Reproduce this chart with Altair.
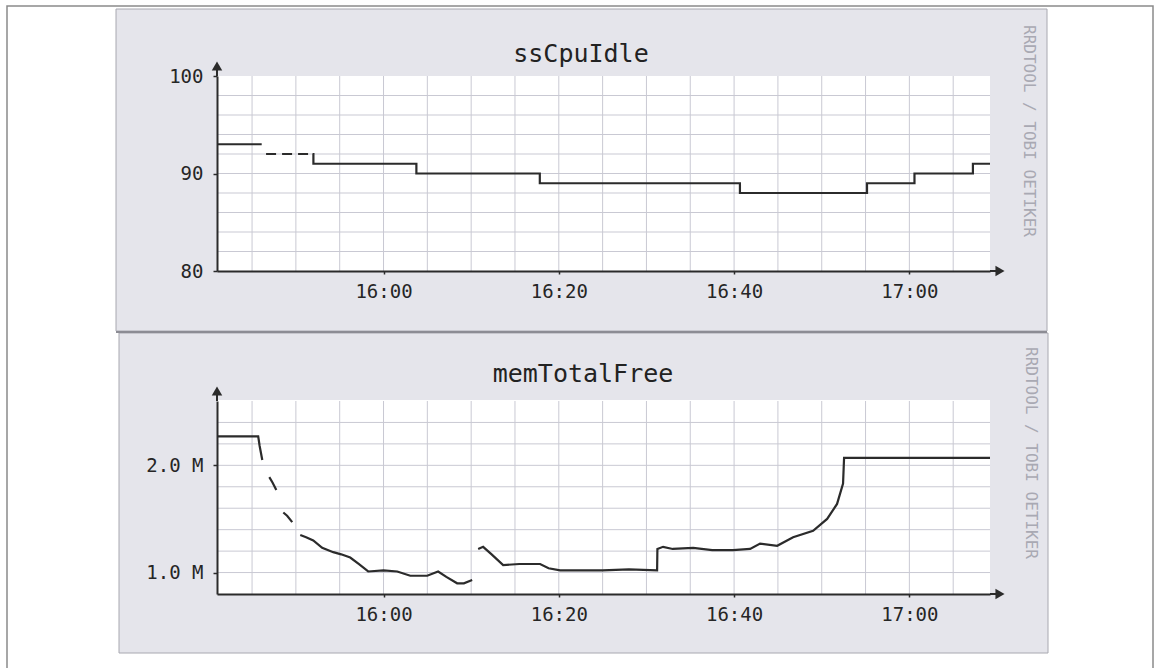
import altair as alt
import pandas as pd

DAY = "2024-01-01T"

# ---------------- data ----------------
cpu_a_t = ["15:41:00", "15:46:06"]
cpu_a_v = [93, 93]
cpu_b_t = ["15:46:36", "15:51:54"]          # dashed (sparse data) part
cpu_b_v = [92, 92]
cpu_c_t = ["15:51:54", "15:52:00", "16:03:45", "16:17:50", "16:40:40",
           "16:55:10", "17:00:35", "17:07:15", "17:09:12"]
cpu_c_v = [92, 91, 90, 89, 88, 89, 90, 91, 91]

mem_1_t = ["15:41:00", "15:45:42", "15:45:52", "15:46:10"]
mem_1_v = [2.27, 2.27, 2.18, 2.05]
mem_2_t = ["15:46:58", "15:47:20", "15:47:46"]
mem_2_v = [1.89, 1.84, 1.77]
mem_3_t = ["15:48:34", "15:49:00", "15:49:35"]
mem_3_v = [1.56, 1.53, 1.47]
mem_4_t = ["15:50:30", "15:51:10", "15:51:59", "15:53:00", "15:54:16", "15:55:10",
           "15:56:12", "15:57:10", "15:58:15", "16:00:00", "16:01:34", "16:03:03",
           "16:04:59", "16:06:14", "16:07:10", "16:08:24", "16:09:10", "16:10:07"]
mem_4_v = [1.35, 1.33, 1.30, 1.23, 1.19, 1.17, 1.14, 1.08, 1.01, 1.02, 1.01, 0.97,
           0.97, 1.01, 0.96, 0.90, 0.90, 0.93]
mem_5_t = ["16:10:48", "16:11:22", "16:12:20", "16:13:39", "16:15:30", "16:17:52",
           "16:18:50", "16:20:09", "16:25:00", "16:28:00", "16:31:13", "16:31:15",
           "16:31:54", "16:33:00", "16:35:20", "16:37:30", "16:39:53", "16:41:50",
           "16:42:58", "16:44:55", "16:46:44", "16:49:01", "16:50:37", "16:51:45",
           "16:52:26", "16:52:33", "17:09:12"]
mem_5_v = [1.22, 1.24, 1.17, 1.07, 1.08, 1.08, 1.04, 1.02, 1.02, 1.03, 1.02, 1.22,
           1.24, 1.22, 1.23, 1.21, 1.21, 1.22, 1.27, 1.25, 1.33, 1.39, 1.50, 1.64,
           1.83, 2.07, 2.07]

time_grid = ["15:45:00", "15:50:00", "15:55:00", "16:00:00", "16:05:00", "16:10:00",
             "16:15:00", "16:20:00", "16:25:00", "16:30:00", "16:35:00", "16:40:00",
             "16:45:00", "16:50:00", "16:55:00", "17:00:00", "17:05:00"]
time_labels = ["16:00:00", "16:20:00", "16:40:00", "17:00:00"]
cpu_grid = [82, 84, 86, 88, 90, 92, 94, 96, 98]
cpu_labels = [80, 90, 100]
mem_grid = [1.0, 1.2, 1.4, 1.6, 1.8, 2.0, 2.2, 2.4]
mem_labels = [1.0, 2.0]
x_start, x_end = "15:41:00", "17:09:12"
cpu_dom = [80, 100]
mem_dom = [0.8, 2.6]


def dt(s):
    h, m, sec = (int(p) for p in s.split(":"))
    return alt.DateTime(year=2024, month=1, date=1, hours=h, minutes=m, seconds=sec)


def frame(segs):
    rows = []
    for name, ts, vs in segs:
        for t, v in zip(ts, vs):
            rows.append({"t": DAY + t, "v": v, "seg": name})
    return pd.DataFrame(rows)


cpu_solid = frame([("a", cpu_a_t, cpu_a_v), ("c", cpu_c_t, cpu_c_v)])
cpu_dash = frame([("b", cpu_b_t, cpu_b_v)])
mem_df = frame([("1", mem_1_t, mem_1_v), ("2", mem_2_t, mem_2_v), ("3", mem_3_t, mem_3_v),
                ("4", mem_4_t, mem_4_v), ("5", mem_5_t, mem_5_v)])
tgrid_df = pd.DataFrame({"t": [DAY + t for t in time_grid]})
cgrid_df = pd.DataFrame({"v": cpu_grid})
mgrid_df = pd.DataFrame({"v": mem_grid})

# ---------------- layout ----------------
W, H = 1156, 668
PX0, PX1 = 217, 990
T_Y0, T_Y1 = 271, 76
B_Y0, B_Y1 = 594, 401
FONT = "DejaVu Sans Mono"
INK = "#2b2b2b"
GRID = "#c9c9d3"
PANEL = "#e5e5eb"

xscale = alt.Scale(domain=[dt(x_start), dt(x_end)], range=[PX0, PX1])
ys_top = alt.Scale(domain=cpu_dom, range=[T_Y0, T_Y1], nice=False, zero=False)
ys_bot = alt.Scale(domain=mem_dom, range=[B_Y0, B_Y1], nice=False, zero=False)


def xaxis(ypos):
    return alt.Axis(orient="bottom", offset=ypos - H, values=[dt(t) for t in time_labels],
                    format="%H:%M", grid=False, domainColor=INK, domainWidth=2,
                    tickColor=INK, tickSize=3, tickWidth=1.5, labelFont=FONT, labelFontSize=19,
                    labelColor="#262626", labelPadding=8, title=None, labelFlush=False,
                    zindex=2)


def yaxis(vals, expr=None):
    kw = dict(orient="left", offset=-PX0, values=vals, grid=False, domainColor=INK,
              domainWidth=2, tickColor=INK, tickSize=4, tickWidth=1.5, labelFont=FONT,
              labelFontSize=19, labelColor="#262626", labelPadding=10, title=None, zindex=2)
    if expr:
        kw["labelExpr"] = expr
    return alt.Axis(**kw)


xa_top, xa_bot = xaxis(T_Y0), xaxis(B_Y0)
ya_top = yaxis(cpu_labels)
ya_bot = yaxis(mem_labels, "format(datum.value, '.1f') + ' M'")

one = alt.Chart(pd.DataFrame({"d": [0]}))


def box(x0, y0, x1, y1, **kw):
    return one.mark_rect(**kw).encode(x=alt.value(x0), x2=alt.value(x1),
                                      y=alt.value(y0), y2=alt.value(y1))


def hline(x0, x1, y, **kw):
    return one.mark_rule(**kw).encode(x=alt.value(x0), x2=alt.value(x1), y=alt.value(y))


def vline(x, y0, y1, **kw):
    return one.mark_rule(**kw).encode(x=alt.value(x), y=alt.value(y0), y2=alt.value(y1))


def label(txt, x, y, **kw):
    return one.mark_text(text=txt, font=FONT, **kw).encode(x=alt.value(x), y=alt.value(y))


decor = alt.layer(
    box(7, 6, 1153, 720, fill="white", stroke="#8a8a8a", strokeWidth=1.5),
    box(116, 9, 1047, 331, fill=PANEL, stroke="#a8a8b0", strokeWidth=1),
    box(119, 333, 1048, 653, fill=PANEL, stroke="#a8a8b0", strokeWidth=1),
    hline(116, 1047, 332, color="#8c8c94", strokeWidth=2),
    box(PX0, T_Y1, PX1, T_Y0, fill="white"),
    box(PX0, B_Y1 - 1, PX1, B_Y0, fill="white"),
    label("ssCpuIdle", 581, 54, fontSize=25, color="#222", align="center"),
    label("memTotalFree", 583, 374, fontSize=25, color="#222", align="center"),
    label("RRDTOOL / TOBI OETIKER", 1029, 25, fontSize=16, color="#a9a9b3",
          angle=90, align="left", baseline="middle"),
    label("RRDTOOL / TOBI OETIKER", 1031, 347, fontSize=16, color="#a9a9b3",
          angle=90, align="left", baseline="middle"),
)

arrows = alt.layer(
    vline(PX0, 66, T_Y1, color=INK, strokeWidth=2),
    vline(PX0, 391, B_Y1, color=INK, strokeWidth=2),
    hline(PX1, 998, T_Y0, color=INK, strokeWidth=2),
    hline(PX1, 998, B_Y0, color=INK, strokeWidth=2),
    one.mark_point(shape="triangle-up", filled=True, size=110, color=INK, opacity=1)
       .encode(x=alt.value(PX0), y=alt.value(66)),
    one.mark_point(shape="triangle-up", filled=True, size=110, color=INK, opacity=1)
       .encode(x=alt.value(PX0), y=alt.value(391)),
    one.mark_point(shape="triangle-right", filled=True, size=110, color=INK, opacity=1)
       .encode(x=alt.value(1000), y=alt.value(T_Y0)),
    one.mark_point(shape="triangle-right", filled=True, size=110, color=INK, opacity=1)
       .encode(x=alt.value(1000), y=alt.value(B_Y0)),
)

top = alt.layer(
    alt.Chart(tgrid_df).mark_rule(color=GRID, strokeWidth=1).encode(
        x=alt.X("t:T", scale=xscale, axis=xa_top), y=alt.value(T_Y1), y2=alt.value(T_Y0)),
    alt.Chart(cgrid_df).mark_rule(color=GRID, strokeWidth=1).encode(
        y=alt.Y("v:Q", scale=ys_top, axis=ya_top), x=alt.value(PX0), x2=alt.value(PX1)),
    alt.Chart(cpu_solid).mark_line(interpolate="step-after", color=INK, strokeWidth=2.2).encode(
        x=alt.X("t:T", scale=xscale, axis=xa_top),
        y=alt.Y("v:Q", scale=ys_top, axis=ya_top), detail="seg:N"),
    alt.Chart(cpu_dash).mark_line(interpolate="step-after", color=INK, strokeWidth=2.2,
                                  strokeDash=[10, 6]).encode(
        x=alt.X("t:T", scale=xscale, axis=xa_top),
        y=alt.Y("v:Q", scale=ys_top, axis=ya_top), detail="seg:N"),
)

bottom = alt.layer(
    alt.Chart(tgrid_df).mark_rule(color=GRID, strokeWidth=1).encode(
        x=alt.X("t:T", scale=xscale, axis=xa_bot), y=alt.value(B_Y1), y2=alt.value(B_Y0)),
    alt.Chart(mgrid_df).mark_rule(color=GRID, strokeWidth=1).encode(
        y=alt.Y("v:Q", scale=ys_bot, axis=ya_bot), x=alt.value(PX0), x2=alt.value(PX1)),
    alt.Chart(mem_df).mark_line(color=INK, strokeWidth=2.2).encode(
        x=alt.X("t:T", scale=xscale, axis=xa_bot),
        y=alt.Y("v:Q", scale=ys_bot, axis=ya_bot), detail="seg:N"),
)

chart = alt.layer(decor, top, bottom, arrows).resolve_scale(
    x="independent", y="independent"
).properties(
    width=W, height=H, padding=0, background="white",
    autosize=alt.AutoSizeParams(type="none"),
).configure_view(stroke=None)

chart.save("out.html", embed_options={"renderer": "svg", "actions": False})
